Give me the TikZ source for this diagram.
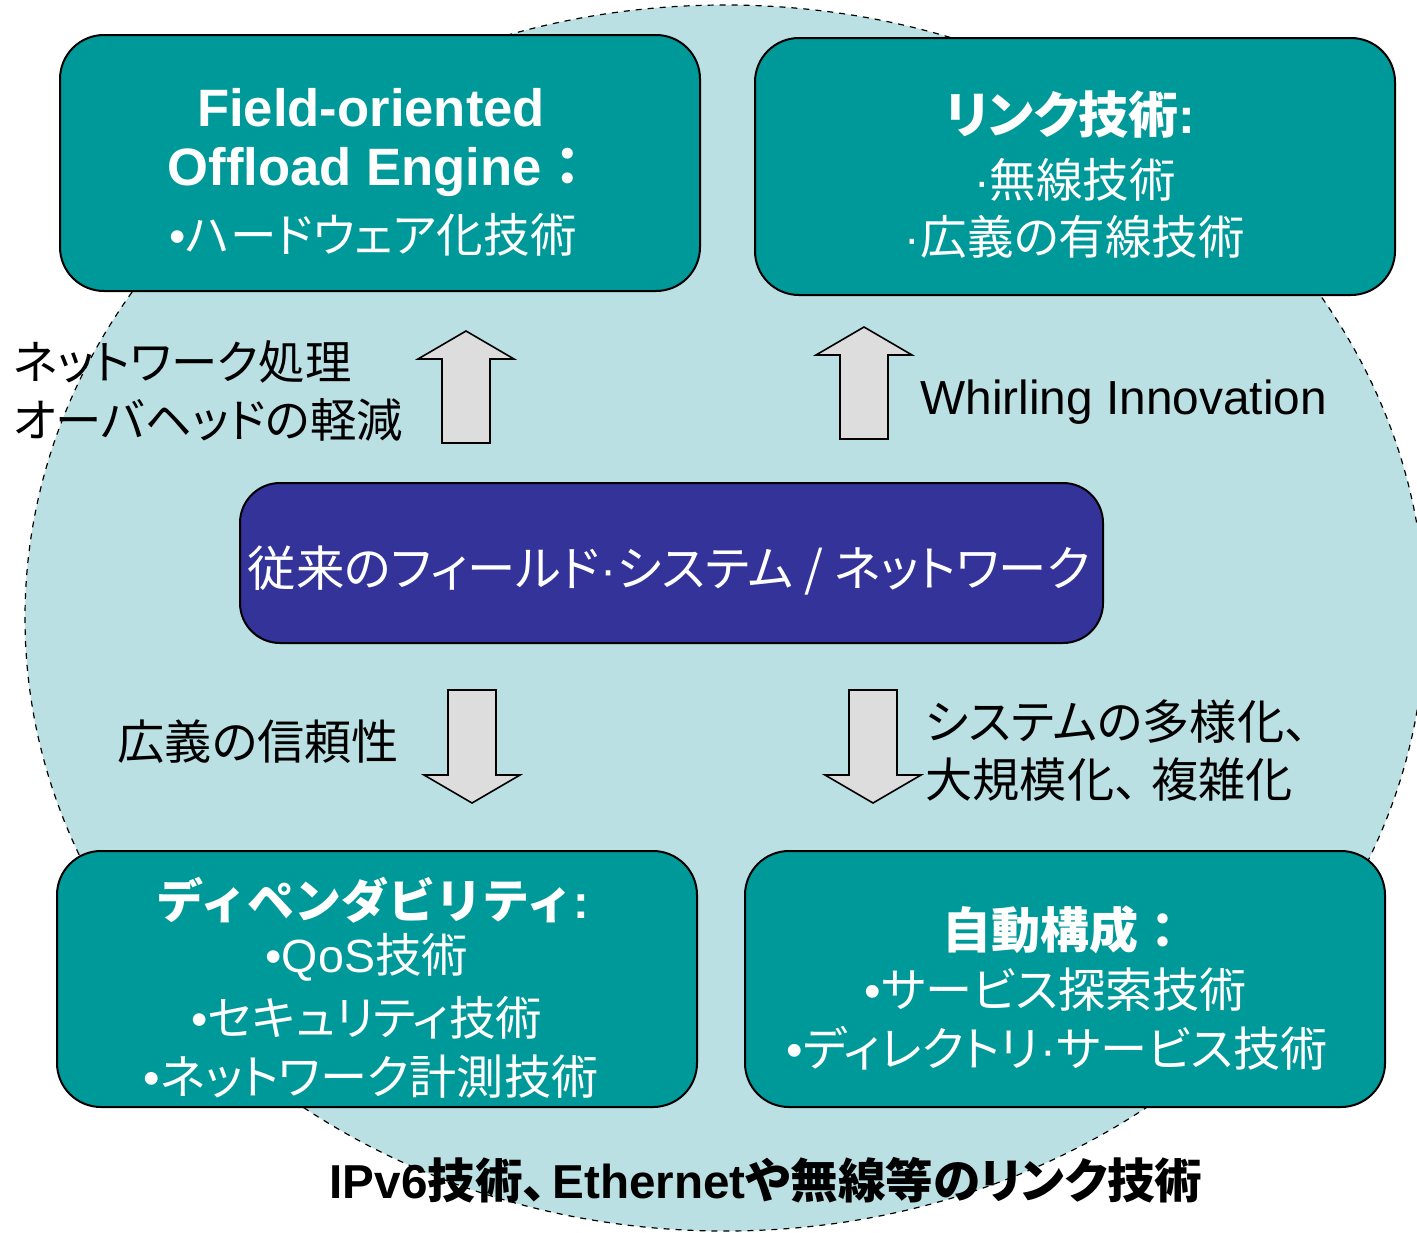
\documentclass[tikz,border=0pt]{standalone}
\usepackage{fontspec}
\usetikzlibrary{shapes.geometric}
\setmainfont{Liberation Sans}
\newfontfamily\jp[RawFeature=+palt]{Noto Sans CJK JP}
\newfontfamily\jpf{Noto Sans CJK JP}
\definecolor{tealbox}{RGB}{0,153,153}
\definecolor{navybox}{RGB}{51,51,153}
\definecolor{bgblue}{RGB}{187,224,227}
\definecolor{arrgray}{RGB}{221,221,221}
\tikzset{
  tbox/.style={draw=black, line width=1pt, fill=tealbox, rounded corners=22pt, inner sep=0pt},
  wtxt/.style={text=white, inner sep=0pt, font=\fontsize{23.3}{27}\selectfont},
  btxt/.style={text=black, inner sep=0pt, font=\fontsize{23.6}{29}\selectfont},
  blockarr/.style={draw=black, line width=0.8pt, fill=arrgray},
  uparr/.pic={\draw[blockarr] (-24,0) -- (-24,-84) -- (-48,-84) -- (0,-112) -- (48,-84) -- (24,-84) -- (24,0) -- cycle;},
  dnarr/.pic={\draw[blockarr] (-24,0) -- (-24,85) -- (-48,85) -- (0,113) -- (48,85) -- (24,85) -- (24,0) -- cycle;}
}
\begin{document}
\begin{tikzpicture}[x=0.5pt,y=-0.5pt]
\useasboundingbox (0,0) rectangle (1417,1232);
% background ellipse
\node[draw=black, dashed, line width=0.6pt, fill=bgblue, ellipse, minimum width=700pt, minimum height=613pt, inner sep=0pt] (bg) at (725,618) {};
% boxes
\node[tbox, minimum width=320pt, minimum height=128pt] (tl) at (380,163) {};
\node[tbox, minimum width=320pt, minimum height=128.5pt] (tr) at (1075,166.5) {};
\node[tbox, fill=navybox, rounded corners=20pt, minimum width=431.5pt, minimum height=80pt] (mid) at (671.5,563) {};
\node[tbox, minimum width=320pt, minimum height=128pt] (bl) at (377,979) {};
\node[tbox, minimum width=320pt, minimum height=128pt] (br) at (1065,979) {};
% arrows
\pic at (466,443) {uparr};
\pic at (864,439) {uparr};
\pic at (472,690) {dnarr};
\pic at (873,690) {dnarr};
% box texts
\node[wtxt, font=\fontsize{26.3}{30}\selectfont\bfseries] (tl1) at (371,108) {Field-oriented};
\node[wtxt, font=\fontsize{26.3}{30}\selectfont\bfseries] (tl2) at (381,172) {Offload Engine{\jpf ：}};
\node[wtxt] (tl3) at (373,235) {•{\jp ハードウェア化技術}};
\node[wtxt, font=\fontsize{25}{29}\selectfont\bfseries] (tr1) at (1070,115) {{\jp リンク技術}:};
\node[wtxt] (tr2) at (1075,180) {·{\jp 無線技術}};
\node[wtxt] (tr3) at (1075,237) {·{\jp 広義の有線技術}};
\node[wtxt, font=\fontsize{24.2}{28}\selectfont] (m1) at (669,570) {{\jp 従来のフィールド}\kern0.5pt·\kern0.5pt{\jp システム / ネットワーク}};
\node[wtxt, font=\fontsize{23.5}{27}\selectfont\bfseries] (bl1) at (373,900) {{\jpf ディペンダビリティ}:};
\node[wtxt] (bl2) at (367,957) {•QoS{\jp 技術}};
\node[wtxt] (bl3) at (367,1018) {•{\jp セキュリティ技術}};
\node[wtxt, font=\fontsize{23.6}{27}\selectfont] (bl4) at (371,1077) {•{\jp ネットワーク計測技術}};
\node[wtxt, font=\fontsize{24.5}{28}\selectfont\bfseries] (br1) at (1065,930) {{\jpf 自動構成：}};
\node[wtxt, font=\fontsize{23.6}{27}\selectfont] (br2) at (1056,990) {•{\jp サービス探索技術}};
\node[wtxt, font=\fontsize{23.6}{27}\selectfont] (br3) at (1057,1048) {•{\jp ディレクトリ}\kern0.5pt·\kern0.5pt{\jp サービス技術}};
% outside labels
\node[btxt, font=\fontsize{23.2}{29}\selectfont, anchor=west, align=left] (lab1) at (13,391) {{\jp ネットワーク処理}\\{\jp オーバヘッドの軽減}};
\node[btxt, font=\fontsize{23.9}{29}\selectfont, anchor=west] (lab2) at (920,402) {Whirling Innovation};
\node[btxt, anchor=west] (lab3) at (117,742) {\jp 広義の信頼性};
\node[btxt, anchor=west, align=left] (lab4) at (925,751) {{\jp システムの多様化}{\jpf 、}\\{\jp 大規模化}{\jpf 、}\kern-5pt{\jp 複雑化}};
\node[btxt, font=\fontsize{23.8}{28}\selectfont\bfseries] (bot) at (766,1180) {IPv6{\jp 技術、}\kern3pt Ethernet{\jp や無線等のリンク技術}};
\end{tikzpicture}
\end{document}
